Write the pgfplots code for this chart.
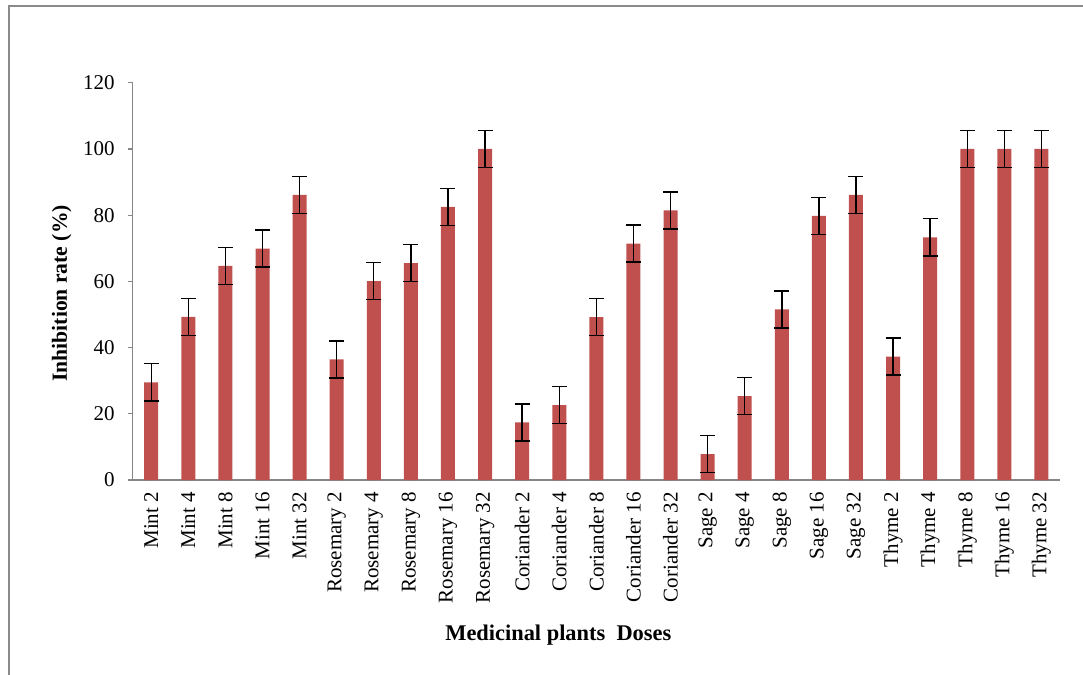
\documentclass[border=0pt]{standalone}
\usepackage{pgfplots}
\pgfplotsset{compat=1.18}
\usepackage{pgfplotstable}
\usepackage{fontspec}
\setmainfont{Liberation Serif}

\definecolor{barred}{HTML}{C0504D}
\definecolor{axisgrey}{HTML}{868686}
\definecolor{framegrey}{HTML}{8A8A8A}

\pgfplotstableread{
x  val    err
1  29.5   5.6
2  49.3   5.6
3  64.7   5.6
4  69.9   5.6
5  86.1   5.6
6  36.4   5.6
7  60.1   5.6
8  65.5   5.6
9  82.5   5.6
10 100.0  5.6
11 17.4   5.6
12 22.6   5.6
13 49.2   5.6
14 71.4   5.6
15 81.4   5.6
16 7.8    5.6
17 25.3   5.6
18 51.5   5.6
19 79.8   5.6
20 86.1   5.6
21 37.3   5.6
22 73.3   5.6
23 100.0  5.6
24 100.0  5.6
25 100.0  5.6
}\inhib

\begin{document}
\begin{tikzpicture}
% page = 1083x675 px at 2 px/pt, axis box south west at (0,0)
\useasboundingbox (-66.35pt,-97.5pt) rectangle (475.15pt,240pt);
\draw[framegrey, line width=1.1pt] (-62pt,-97.5pt) -- (-62pt,237pt) -- (475.15pt,237pt);
\begin{axis}[
    at={(0,0)}, anchor=south west,
    scale only axis,
    width=463.65pt, height=198.65pt,
    xmin=0.5, xmax=25.5,
    ymin=0, ymax=120,
    ytick={0,20,...,120},
    axis x line=bottom, axis y line=left,
    axis line style={axisgrey, line width=0.6pt, -},
    tick align=outside,
    major tick length=2.5pt,
    minor tick length=2.5pt,
    tick style={axisgrey, line width=0.6pt},
    xtick={1,...,25},
    xtick style={draw=none},
    minor xtick={0.5,1.5,...,25.5},
    xticklabels={Mint 2, Mint 4, Mint 8, Mint 16, Mint 32,
        Rosemary 2, Rosemary 4, Rosemary 8, Rosemary 16, Rosemary 32,
        Coriander 2, Coriander 4, Coriander 8, Coriander 16, Coriander 32,
        Sage 2, Sage 4, Sage 8, Sage 16, Sage 32,
        Thyme 2, Thyme 4, Thyme 8, Thyme 16, Thyme 32},
    x tick label style={rotate=90, anchor=east, font=\fontsize{10.5}{12}\selectfont},
    y tick label style={font=\fontsize{10.5}{12}\selectfont, xshift=-3pt},
    /pgf/number format/assume math mode=true,
    ylabel={\textbf{Inhibition rate (\%)}},
    ylabel style={font=\fontsize{10.8}{12}\selectfont, at={(ticklabel cs:0.47)}, yshift=-1pt},
    xlabel={\textbf{Medicinal plants\ \ Doses}},
    xlabel style={font=\fontsize{11.2}{13}\selectfont, at={(ticklabel cs:0.459)}, yshift=-4pt},
    ybar, bar width=7pt,
]
\addplot[fill=barred, draw=none,
    error bars/.cd, y dir=both, y explicit,
    error bar style={black, line width=0.7pt},
    error mark options={black, line width=0.7pt, mark size=3.75pt, rotate=90}]
    table[x=x, y=val, y error=err] {\inhib};
\end{axis}
\end{tikzpicture}
\end{document}
